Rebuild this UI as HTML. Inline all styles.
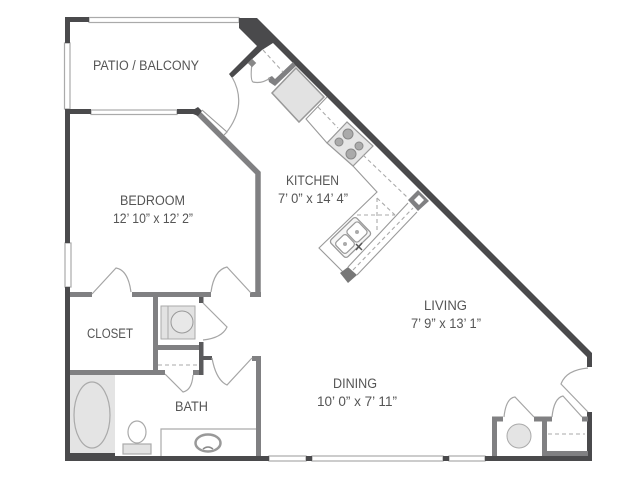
<!DOCTYPE html>
<html><head><meta charset="utf-8"><style>
html,body{margin:0;padding:0;background:#fff}
svg{display:block;filter:blur(.35px)}
text{font-family:"Liberation Sans",sans-serif;font-size:13.5px;fill:#555;text-anchor:middle}
</style></head><body>
<svg width="640" height="480" viewBox="0 0 640 480" xmlns="http://www.w3.org/2000/svg">
<rect width="640" height="480" fill="#fff"/>
<!-- fills -->
<rect x="70" y="375" width="45" height="81" fill="#e4e4e4"/>
<g fill="none" stroke="#aaa" stroke-width="1.2">
<ellipse cx="92" cy="415" rx="18" ry="33"/>
<ellipse cx="137" cy="432" rx="9" ry="11"/>
<rect x="123" y="444" width="28" height="10" fill="#e2e2e2"/>
<path d="M161 456V429H256"/>
</g>
<ellipse cx="208" cy="443" rx="12.5" ry="8.5" fill="#fff" stroke="#999" stroke-width="2.5"/>
<path d="M203 449Q208 445 213 449" stroke="#888" stroke-width="1.5" fill="none"/>
<!-- windows -->
<g fill="#fff" stroke="#aaa" stroke-width="1.2">
<rect x="89" y="17.5" width="150" height="5"/>
<rect x="64.5" y="43" width="5.5" height="66"/>
<rect x="91" y="110" width="86" height="4.5"/>
<rect x="65" y="243" width="6" height="44"/>
<rect x="269" y="456" width="37" height="5"/>
<rect x="312" y="456" width="131" height="5"/>
<rect x="449" y="456" width="36" height="5"/>
</g>
<!-- dark walls -->
<g fill="#4a4a4c">
<rect x="65" y="17" width="24" height="5"/>
<rect x="65" y="17" width="5" height="26"/>
<rect x="65" y="109" width="26" height="5"/>
<rect x="177" y="109" width="20" height="5"/>
<rect x="65" y="109" width="5" height="134"/>
<rect x="65" y="287" width="5" height="174"/>
<rect x="65" y="453" width="50" height="8"/>
<rect x="65" y="456" width="204" height="5"/>
<rect x="306" y="456" width="6" height="5"/>
<rect x="443" y="456" width="6" height="5"/>
<rect x="485" y="456" width="107" height="5"/>
<rect x="587" y="412" width="5" height="49"/>
<polygon points="239,18 257,18 592,353 592,367 587,367 587,357 273,43 262,50 232,78 229,74 257,46 239,28"/>
</g>
<!-- gray walls -->
<g fill="none" stroke="#808082" stroke-width="5">
<path d="M198 113L258 173V297" stroke-width="5.5"/>
<path d="M250 294.5H261"/>
<path d="M70 294.5H92M132 294.5H211"/>
<path d="M155.5 297V373"/>
<path d="M70 372.5H165"/>
<path d="M158 347.5H201.5"/>
<path d="M193 372.5H203"/>
<path d="M252 358.5H258.5V456"/>
<path d="M494.5 456V419H503M534 419H552M544.5 419V456M547 453.5H588M582 419H588"/>
</g>
<polygon points="268,78 272,76 275,79 293,62 296,66 275,86 269,82" fill="#808082"/>
<g fill="#5a5a5c">
<rect x="199" y="342" width="4.5" height="33"/>
<rect x="199" y="297" width="4.5" height="6"/>
<rect x="203" y="356" width="9" height="4"/>
</g>
<path d="M193 110L198 107L202 111L198 116L193 114Z" fill="#4a4a4c"/>
<path d="M202 110L227 132L224 135" fill="none" stroke="#999" stroke-width="1.1"/>
<!-- door swings -->
<g fill="none" stroke="#a5a5a5" stroke-width="1.2">
<path d="M226 133Q248 105 232 77"/>
<path d="M92 294L116 268Q128 270 131 292"/>
<path d="M211 292Q214 270 227 267L251 293"/>
<path d="M203 303L227 327Q222 338 203 340"/>
<path d="M165 374L183 392Q192 390 193 375"/>
<path d="M212 358Q216 380 227 385L252 358"/>
<path d="M504 417Q506 398 515 397L534 417"/>
<path d="M552 417Q554 398 563 396L582 417"/>
<path d="M588 412L561 384Q566 370 588 368"/>
<path d="M252 63Q250 80 253 82Q262 84 270 78"/>
</g>
<rect x="249" y="60" width="6" height="6" fill="#888" transform="rotate(45 252 63)"/>
<!-- laundry -->
<rect x="161" y="306" width="34" height="33" fill="#e2e2e2" stroke="#aaa"/>
<path d="M168 306V339" stroke="#aaa"/>
<circle cx="182" cy="322" r="11" fill="#e8e8e8" stroke="#999"/>
<!-- kitchen -->
<polygon points="296,68 324,97 299,122 272,93" fill="#e2e2e2" stroke="#999" stroke-width="1.5"/>
<g fill="none" stroke="#999" stroke-width="1.1">
<path d="M327 97L306 119L327 143"/>
<path d="M353 166L377 192L319 248L343 272"/>
<path d="M348 267L408 203M357 275L417 212"/>
</g>
<polygon points="347,122 373,146 353,166 327,143" fill="#e6e6e6" stroke="#999" stroke-width="1.2"/>
<g fill="#aaa" stroke="#888">
<circle cx="348" cy="134" r="5"/><circle cx="339" cy="142" r="4"/><circle cx="359" cy="146" r="4"/><circle cx="351" cy="154" r="5"/>
</g>
<g fill="none" stroke="#aaa" stroke-width="1.1" stroke-dasharray="4 3">
<path d="M263 50L283 72"/>
<path d="M318 107L338 128"/>
<path d="M363 155L408 198"/>
<path d="M353 270L413 208"/>
<path d="M357 215H395M377 198V230M377 198L395 215"/>
<path d="M158 365H200"/>
<path d="M548 434H585"/>
</g>
<polygon points="408,200 418,190 429,201 418,211" fill="#808082"/>
<polygon points="414,200 419,195 424,200 419,205" fill="#fff"/>
<polygon points="340,273 348,267 357,275 348,283" fill="#777"/>
<!-- sink -->
<rect x="-18" y="-12" width="36" height="24" rx="3" transform="translate(350.5 237.500) rotate(-44)" fill="#f6f6f6" stroke="#999" stroke-width="1.3"/>
<rect x="-7.500" y="-7.500" width="15" height="15" rx="3" transform="translate(345 244) rotate(-44)" fill="#fff" stroke="#999" stroke-width="1.200"/>
<rect x="-8" y="-8" width="16" height="16" rx="3" transform="translate(357 232) rotate(-44)" fill="#fff" stroke="#999" stroke-width="1.200"/>
<circle cx="345" cy="244" r="2" fill="#aaa"/><circle cx="357" cy="232" r="2" fill="#aaa"/>
<path d="M356 250L362 243M356 244L362 250" stroke="#555" stroke-width="1.500"/>
<circle cx="519" cy="436" r="12" fill="#e4e4e4" stroke="#aaa"/>
<!-- labels -->
<text x="146" y="70" textLength="106" lengthAdjust="spacingAndGlyphs">PATIO / BALCONY</text>
<text x="312.5" y="185" textLength="53" lengthAdjust="spacingAndGlyphs">KITCHEN</text>
<text x="313" y="203" textLength="70" lengthAdjust="spacingAndGlyphs">7’ 0” x 14’ 4”</text>
<text x="152.5" y="205" textLength="65" lengthAdjust="spacingAndGlyphs">BEDROOM</text>
<text x="153" y="223" textLength="80" lengthAdjust="spacingAndGlyphs">12’ 10” x 12’ 2”</text>
<text x="110" y="338" textLength="46" lengthAdjust="spacingAndGlyphs">CLOSET</text>
<text x="191.5" y="411" textLength="33" lengthAdjust="spacingAndGlyphs">BATH</text>
<text x="445.5" y="310" textLength="43" lengthAdjust="spacingAndGlyphs">LIVING</text>
<text x="446" y="328" textLength="70" lengthAdjust="spacingAndGlyphs">7’ 9” x 13’ 1”</text>
<text x="355" y="388" textLength="44" lengthAdjust="spacingAndGlyphs">DINING</text>
<text x="357" y="406" textLength="80" lengthAdjust="spacingAndGlyphs">10’ 0” x 7’ 11”</text>
</svg>
</body></html>
